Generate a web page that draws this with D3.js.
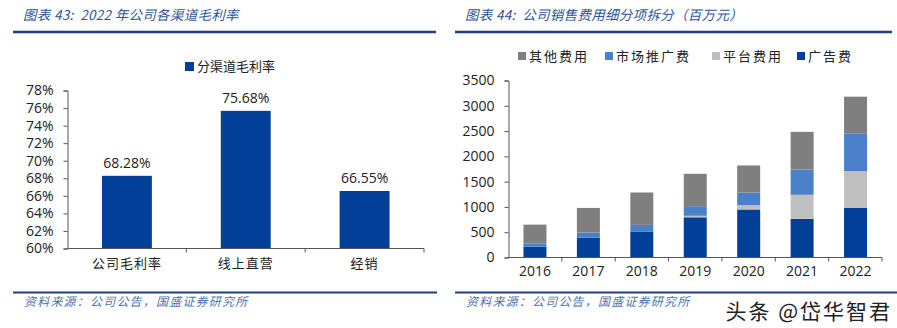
<!DOCTYPE html>
<html><head><meta charset="utf-8">
<script src="https://cdn.jsdelivr.net/npm/d3@7"></script>
<style>body{margin:0;background:#fff}svg{display:block}text{white-space:pre}</style>
</head><body>
<svg id="c" width="897" height="328"></svg>
<script>
// Left chart data
const channels = ["公司毛利率", "线上直营", "经销"];
const margins = [68.28, 75.68, 66.55];
const marginTicks = [60, 62, 64, 66, 68, 70, 72, 74, 76, 78];
const leftLegend = "分渠道毛利率";
// Right chart data
const years = ["2016", "2017", "2018", "2019", "2020", "2021", "2022"];
const adFee = [215, 390, 515, 795, 950, 765, 985];
const platformFee = [0, 0, 0, 30, 85, 475, 725];
const marketFee = [65, 105, 130, 190, 250, 500, 745];
const otherFee = [370, 485, 640, 640, 535, 745, 725];
const feeTicks = [0, 500, 1000, 1500, 2000, 2500, 3000, 3500];
const seriesNames = ["广告费", "平台费用", "市场推广费", "其他费用"];
const legendOrder = ["其他费用", "市场推广费", "平台费用", "广告费"];

const colors = {"广告费": "#023f98", "平台费用": "#bfbfbf", "市场推广费": "#4a80c8", "其他费用": "#7f7f7f"};
const FONT = "'Noto Sans CJK SC', 'Open Sans', sans-serif";
const NUMF = "'Open Sans', 'Noto Sans', sans-serif";
const svg = d3.select("#c");

// Headers & footers
function header(x1, x2, text) {
  svg.append("text").attr("x", x1 + 10).attr("y", 20).attr("font-family", FONT)
    .attr("font-style", "italic").attr("font-size", 13.5).attr("letter-spacing", 0.3)
    .attr("fill", "#2f5597").text(text);
  svg.append("line").attr("x1", x1).attr("x2", x2).attr("y1", 32).attr("y2", 32)
    .attr("stroke", "#1c3f7e").attr("stroke-width", 2.5);
}
function footer(x1, x2) {
  svg.append("line").attr("x1", x1).attr("x2", x2).attr("y1", 292.5).attr("y2", 292.5)
    .attr("stroke", "#1c3f7e").attr("stroke-width", 2);
  svg.append("text").attr("x", x1 + 11).attr("y", 305.5).attr("font-family", FONT)
    .attr("font-style", "italic").attr("font-size", 12).attr("letter-spacing", 1.2)
    .attr("fill", "#4f72b0").text("资料来源：公司公告，国盛证券研究所");
}
header(13, 436, "图表 43:  2022 年公司各渠道毛利率");
header(455, 892, "图表 44:  公司销售费用细分项拆分（百万元）");
footer(13, 437);
footer(455, 897);
svg.append("rect").attr("x", 720).attr("y", 296).attr("width", 177).attr("height", 32).attr("fill", "#fff");
svg.append("text").attr("x", 892).attr("y", 319).attr("text-anchor", "end").attr("font-family", FONT)
  .attr("font-size", 21).attr("letter-spacing", 2).attr("fill", "#222").text("头条 @岱华智君");

// ---------- Left chart ----------
{
  const x = d3.scaleBand().domain(channels).range([67.5, 424]).paddingInner(0.58).paddingOuter(0.29);
  const y = d3.scaleLinear().domain([60, 78]).range([248.5, 90.5]);
  const g = svg.append("g");
  g.selectAll("rect.bar").data(channels).join("rect")
    .attr("x", d => x(d)).attr("width", x.bandwidth())
    .attr("y", (d, i) => y(margins[i])).attr("height", (d, i) => y(60) - y(margins[i]))
    .attr("fill", "#023f98");
  g.selectAll("text.val").data(channels).join("text")
    .attr("x", d => x(d) + x.bandwidth() / 2).attr("y", (d, i) => y(margins[i]) - 8)
    .attr("text-anchor", "middle").attr("font-family", NUMF).attr("font-size", 14).attr("fill", "#222")
    .text((d, i) => margins[i].toFixed(2) + "%");
  const ya = d3.axisLeft(y).tickValues(marginTicks).tickFormat(d => d + "%").tickSize(4).tickPadding(10);
  const yg = g.append("g").attr("transform", "translate(67.5,0)").call(ya);
  yg.select(".domain").attr("stroke", "#555");
  yg.selectAll(".tick line").attr("stroke", "#555");
  yg.selectAll("text").attr("font-family", NUMF).attr("font-size", 14).attr("fill", "#222");
  const xa = d3.axisBottom(x).tickSize(0).tickPadding(10);
  const xg = g.append("g").attr("transform", "translate(0,248.5)").call(xa);
  xg.select(".domain").attr("stroke", "#555").attr("d", "M67.5,0H424");
  xg.selectAll("text").attr("font-family", FONT).attr("font-size", 13).attr("letter-spacing", 1).attr("fill", "#222");
  const bnd = [0, 1, 2].map(i => 67.5 + (424 - 67.5) / 3 * (i + 1));
  g.selectAll("line.xt").data(bnd).join("line").attr("x1", d => d).attr("x2", d => d)
    .attr("y1", 248.5).attr("y2", 252.5).attr("stroke", "#555");
  // legend
  g.append("rect").attr("x", 185).attr("y", 62).attr("width", 9).attr("height", 9).attr("fill", "#023f98");
  g.append("text").attr("x", 197).attr("y", 71).attr("font-family", FONT).attr("font-size", 13)
    .attr("fill", "#222").text(leftLegend);
}

// ---------- Right chart ----------
{
  const x0 = 508.5, x1 = 882;
  const x = d3.scaleBand().domain(years).range([x0, x1]).paddingInner(0.57).paddingOuter(0.28);
  const y = d3.scaleLinear().domain([0, 3500]).range([257.5, 80.5]);
  const rows = years.map((yr, i) => ({year: yr, "广告费": adFee[i], "平台费用": platformFee[i], "市场推广费": marketFee[i], "其他费用": otherFee[i]}));
  const stacked = d3.stack().keys(seriesNames)(rows);
  const g = svg.append("g");
  g.selectAll("g.s").data(stacked).join("g").attr("fill", d => colors[d.key])
    .selectAll("rect").data(d => d).join("rect")
    .attr("x", d => x(d.data.year)).attr("width", x.bandwidth())
    .attr("y", d => y(d[1])).attr("height", d => y(d[0]) - y(d[1]));
  const ya = d3.axisLeft(y).tickValues(feeTicks).tickFormat(d3.format("d")).tickSize(4).tickPadding(10);
  const yg = g.append("g").attr("transform", `translate(${x0},0)`).call(ya);
  yg.select(".domain").attr("stroke", "#555");
  yg.selectAll(".tick line").attr("stroke", "#555");
  yg.selectAll("text").attr("font-family", NUMF).attr("font-size", 14).attr("fill", "#222");
  const xa = d3.axisBottom(x).tickSize(0).tickPadding(9);
  const xg = g.append("g").attr("transform", "translate(0,257.5)").call(xa);
  xg.select(".domain").attr("stroke", "#555").attr("d", `M${x0},0H${x1}`);
  xg.selectAll("text").attr("font-family", NUMF).attr("font-size", 14).attr("fill", "#222");
  const bnd = years.map((d, i) => x0 + (x1 - x0) / 7 * (i + 1));
  g.selectAll("line.xt").data(bnd).join("line").attr("x1", d => d).attr("x2", d => d)
    .attr("y1", 257.5).attr("y2", 261.5).attr("stroke", "#555");
  // legend
  const lx = [518, 605, 712, 797];
  const lg = g.selectAll("g.lg").data(legendOrder).join("g").attr("transform", (d, i) => `translate(${lx[i]},52)`);
  lg.append("rect").attr("width", 8).attr("height", 8).attr("fill", d => colors[d]);
  lg.append("text").attr("x", 11).attr("y", 9).attr("font-family", FONT).attr("font-size", 13)
    .attr("letter-spacing", 2).attr("fill", "#222").text(d => d);
}
</script>
</body></html>
